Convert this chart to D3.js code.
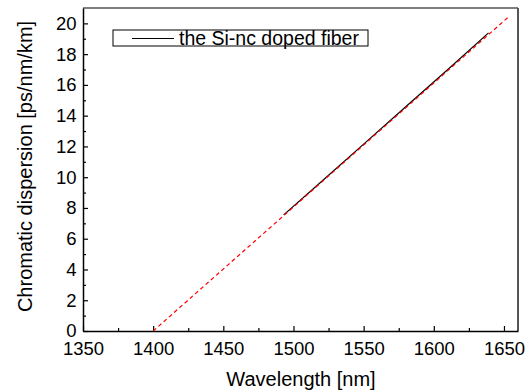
<!DOCTYPE html>
<html><head><meta charset="utf-8">
<script src="https://cdn.jsdelivr.net/npm/d3@7"></script>
<style>body{margin:0;background:#fff}svg{display:block}text{font-family:"Liberation Sans",Arial,sans-serif;fill:#000}</style>
</head><body><svg id="c" width="529" height="392"></svg>
<script>
const xTicks = [1350,1400,1450,1500,1550,1600,1650];
const yTicks = [0,2,4,6,8,10,12,14,16,18,20];
const xMinor = [1375,1425,1475,1525,1575,1625];
const yMinor = [1,3,5,7,9,11,13,15,17,19];
const measuredX = [1493,1520,1550,1580,1610,1639];
const measuredY = [7.55,9.72,12.15,14.58,17.0,19.38];
const fitX = [1400,1654];
const fitY = [0,20.48];
const legendLabel = "the Si-nc doped fiber";

const svg = d3.select("#c");
const L=83, R=518, T=8, B=331;
const x = d3.scaleLinear().domain([1350,1660]).range([L,R]);
const y = d3.scaleLinear().domain([0,21]).range([B,T]);

svg.append("line").attr("x1",L).attr("x2",R).attr("y1",T).attr("y2",T).attr("stroke","#000").attr("stroke-width",1.2);
svg.append("line").attr("x1",R).attr("x2",R).attr("y1",T).attr("y2",B).attr("stroke","#555").attr("stroke-width",2);

const fs = 18.5;
const gx = svg.append("g").attr("transform",`translate(0,${B})`)
  .call(d3.axisBottom(x).tickValues(xTicks).tickFormat(d3.format("d")).tickSizeInner(-5).tickSizeOuter(0).tickPadding(10.5));
gx.selectAll("text").attr("font-size",fs).attr("dy","0.75em");
svg.append("g").attr("transform",`translate(0,${B})`)
  .call(d3.axisBottom(x).tickValues(xMinor).tickFormat("").tickSizeInner(-3).tickSizeOuter(0))
  .select(".domain").remove();
const gy = svg.append("g").attr("transform",`translate(${L},0)`)
  .call(d3.axisLeft(y).tickValues(yTicks).tickFormat(d3.format("d")).tickSizeInner(-5).tickSizeOuter(0).tickPadding(6.5));
gy.selectAll("text").attr("font-size",fs);
svg.append("g").attr("transform",`translate(${L},0)`)
  .call(d3.axisLeft(y).tickValues(yMinor).tickFormat("").tickSizeInner(-3).tickSizeOuter(0))
  .select(".domain").remove();
svg.selectAll(".domain").attr("stroke","#000").attr("stroke-width",1.5);
svg.selectAll(".tick line").attr("stroke","#000").attr("stroke-width",1.2);

const line = d3.line().x(d=>x(d[0])).y(d=>y(d[1]));
svg.append("path").datum(measuredX.map((v,i)=>[v,measuredY[i]])).attr("d",line)
  .attr("fill","none").attr("stroke","#000").attr("stroke-width",1.2);
svg.append("path").datum(fitX.map((v,i)=>[v,fitY[i]])).attr("d",line)
  .attr("fill","none").attr("stroke","#f00").attr("stroke-width",1.2).attr("stroke-dasharray","4,3");

svg.append("rect").attr("x",113).attr("y",30).attr("width",255).attr("height",16)
  .attr("fill","#fff").attr("stroke","#000").attr("stroke-width",1);
svg.append("line").attr("x1",132).attr("x2",174).attr("y1",38.5).attr("y2",38.5).attr("stroke","#000").attr("stroke-width",1.2);
svg.append("text").attr("x",179).attr("y",44.5).attr("font-size",19.5).text(legendLabel);

svg.append("text").attr("x",301).attr("y",386).attr("text-anchor","middle").attr("font-size",20).text("Wavelength [nm]");
svg.append("text").attr("transform",`translate(32,166.5) rotate(-90)`).attr("text-anchor","middle").attr("font-size",20).text("Chromatic dispersion [ps/nm/km]");
</script></body></html>
